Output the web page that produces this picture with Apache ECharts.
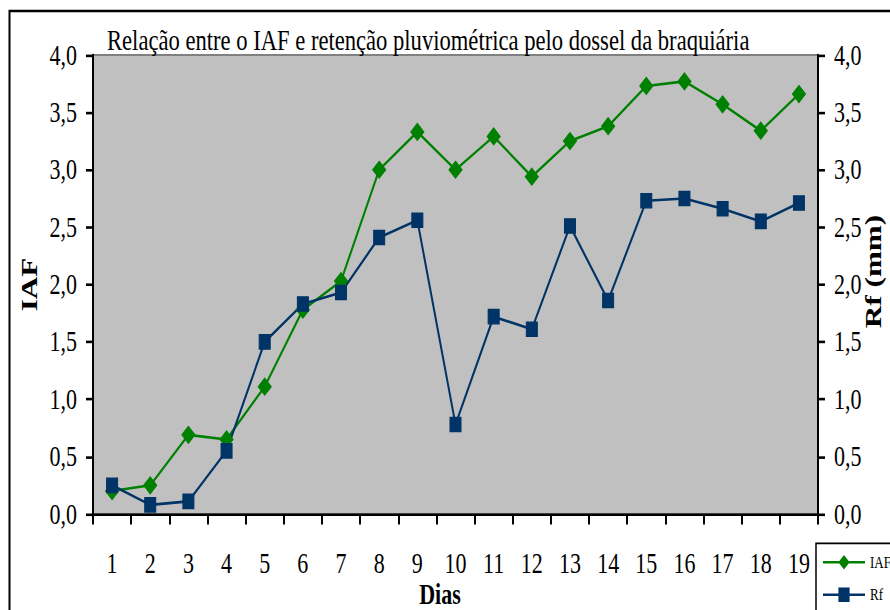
<!DOCTYPE html>
<html>
<head>
<meta charset="utf-8">
<script src="https://cdn.jsdelivr.net/npm/echarts@6.0.0/dist/echarts.min.js"></script>
<style>
  html, body { margin: 0; padding: 0; background: #fff; }
  #frame { width: 890px; height: 610px; overflow: hidden; position: relative; }
  /* The chart is laid out in a shorter box and stretched vertically,
     giving the tall, narrow lettering and markers of the figure. */
  #chart { width: 920px; height: 480px; transform: scaleY(1.3); transform-origin: 0 0; }
</style>
</head>
<body>
<div id="frame"><div id="chart"></div></div>
<script>
// Days of observation
const days = ['1','2','3','4','5','6','7','8','9','10','11','12','13','14','15','16','17','18','19'];
// Índice de área foliar (IAF)
const iaf = [0.20, 0.25, 0.69, 0.65, 1.11, 1.78, 2.03, 3.00, 3.33, 3.00, 3.29, 2.94, 3.25, 3.38, 3.73, 3.77, 3.57, 3.34, 3.66];
// Retenção pluviométrica (Rf, mm)
const rf = [0.25, 0.08, 0.11, 0.55, 1.50, 1.83, 1.93, 2.41, 2.56, 0.78, 1.72, 1.61, 2.51, 1.86, 2.73, 2.75, 2.66, 2.55, 2.71];

const titleText = 'Relação entre o IAF e retenção pluviométrica pelo dossel da braquiária';
const serif = '"Liberation Serif", "Times New Roman", serif';
const GREEN = '#008000';
const BLUE = '#003366';

const fmt = v => v.toFixed(1).replace('.', ',');

const chart = echarts.init(document.getElementById('chart'), null, { renderer: 'svg' });

chart.setOption({
  backgroundColor: '#ffffff',
  animation: false,
  textStyle: { fontFamily: serif, color: '#000' },
  title: {
    text: titleText,
    left: 107,
    top: 20,
    padding: 0,
    textStyle: { fontFamily: serif, fontSize: 22.6, fontWeight: 'normal', color: '#000' }
  },
  graphic: [{
    type: 'rect',
    shape: { x: 9.5, y: 8.5, width: 1000, height: 1000 },
    style: { fill: 'none', stroke: '#000', lineWidth: 2 },
    silent: true,
    z: -1
  }],
  legend: {
    orient: 'vertical',
    left: 816,
    top: 418,
    padding: [8, 30, 8, 6],
    itemWidth: 42,
    itemHeight: 14,
    itemGap: 12,
    backgroundColor: '#ffffff',
    borderColor: '#000',
    borderWidth: 1.5,
    borderRadius: 0,
    textStyle: { fontFamily: serif, fontSize: 13, color: '#000' },
    data: ['IAF', 'Rf']
  },
  grid: {
    left: 93,
    top: 42.3,
    width: 725,
    height: 353.1,
    show: true,
    backgroundColor: '#c0c0c0',
    borderColor: '#808080',
    borderWidth: 1.5
  },
  xAxis: {
    type: 'category',
    data: days,
    boundaryGap: true,
    name: 'Dias',
    nameLocation: 'middle',
    nameGap: 53,
    nameMoveOverlap: false,
    nameTextStyle: { fontFamily: serif, fontSize: 22, lineHeight: 18, fontWeight: 'bold', color: '#000', padding: [0, 31, 0, 0] },
    axisLine: { lineStyle: { color: '#000', width: 2 } },
    axisTick: { show: true, inside: false, length: 8, alignWithLabel: false, lineStyle: { color: '#000', width: 2 } },
    axisLabel: { margin: 29, fontFamily: serif, fontSize: 22, lineHeight: 18, color: '#000' },
    splitLine: { show: false }
  },
  yAxis: [{
    type: 'value',
    position: 'left',
    min: 0,
    max: 4,
    interval: 0.5,
    name: 'IAF',
    nameLocation: 'middle',
    nameRotate: 90,
    nameGap: 52,
    nameMoveOverlap: false,
    nameTextStyle: { fontFamily: serif, fontSize: 24, fontWeight: 'bold', color: '#000' },
    axisLine: { show: true, lineStyle: { color: '#000', width: 2 } },
    axisTick: { show: true, length: 7, lineStyle: { color: '#000', width: 2 } },
    axisLabel: { margin: 16, fontFamily: serif, fontSize: 22, color: '#000', formatter: fmt },
    splitLine: { show: false }
  }, {
    type: 'value',
    position: 'right',
    min: 0,
    max: 4,
    interval: 0.5,
    name: 'Rf (mm)',
    nameLocation: 'middle',
    nameRotate: 90,
    nameGap: 43,
    nameMoveOverlap: false,
    nameTextStyle: { fontFamily: serif, fontSize: 24, fontWeight: 'bold', color: '#000', padding: [0, 0, 0, 20] },
    axisLine: { show: true, lineStyle: { color: '#000', width: 2 } },
    axisTick: { show: true, length: 7, lineStyle: { color: '#000', width: 2 } },
    axisLabel: { margin: 16, fontFamily: serif, fontSize: 22, color: '#000', formatter: fmt },
    splitLine: { show: false }
  }],
  series: [{
    name: 'IAF',
    type: 'line',
    yAxisIndex: 0,
    data: iaf,
    symbol: 'diamond',
    symbolSize: 13,
    showAllSymbol: true,
    lineStyle: { color: GREEN, width: 2 },
    itemStyle: { color: GREEN, borderColor: GREEN }
  }, {
    name: 'Rf',
    type: 'line',
    yAxisIndex: 1,
    data: rf,
    symbol: 'rect',
    symbolSize: 11,
    showAllSymbol: true,
    lineStyle: { color: BLUE, width: 2 },
    itemStyle: { color: BLUE, borderColor: BLUE }
  }]
});
</script>
</body>
</html>
